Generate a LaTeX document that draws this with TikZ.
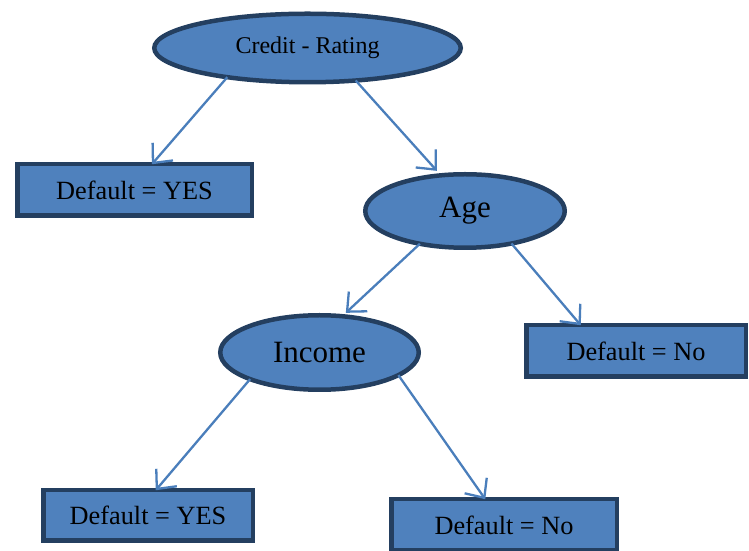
\documentclass[tikz,border=0pt]{standalone}
\usepackage{fontspec}
\setmainfont{Liberation Serif}
\usepackage{xcolor}
\usetikzlibrary{positioning,arrows.meta,shapes.geometric}

\definecolor{boxfill}{HTML}{4F81BD}
\definecolor{boxline}{HTML}{243F60}
\definecolor{arrline}{HTML}{4A7EBB}

\begin{document}
\begin{tikzpicture}[x=1pt,y=1pt,every node/.style={draw=boxline, line width=4.5pt, fill=boxfill, outer sep=0pt, inner sep=0pt}]
\tikzset{test/.style={ellipse},
  leaf/.style={rectangle,minimum height=51.5pt,font=\fontsize{26.3}{30}\selectfont},
  darrow/.style={-{Straight Barb[length=15pt,width=27pt]},line width=2.3pt,draw=arrline}}

  \useasboundingbox (0,0) rectangle (749,551);

  \node(CR) [test,minimum width=306.5pt,minimum height=68.5pt,font=\fontsize{24}{28}\selectfont] at (307.5,503) {Credit - Rating};
  \node(DY1) [leaf,minimum width=234.5pt] at (134.5,361) {Default = YES};
  \node(AGE) [test,minimum width=199.5pt,minimum height=73.5pt,font=\fontsize{31}{36}\selectfont] at (465,340) {Age};
  \node(DN1) [leaf,minimum width=219.5pt] at (636,200) {Default = No};
  \node(INC) [test,minimum width=198.5pt,minimum height=74.5pt,font=\fontsize{31}{36}\selectfont] at (319.5,198.5) {Income};
  \node(DY2) [leaf,minimum width=209.5pt,minimum height=50.5pt] at (148,35.5) {Default = YES};
  \node(DN2) [leaf,minimum width=225.5pt] at (504,26) {Default = No};

  \draw[darrow] (CR.200) -- (DY1.56);
  \draw[darrow,shorten >=6pt] (CR.326) -- (AGE.124);
  \draw[darrow,shorten >=5pt] (AGE.216) -- (INC.58);
  \draw[darrow] (AGE.325) -- (DN1.155);
  \draw[darrow] (INC.201) -- (DY2.73);
  \draw[darrow] (INC.344) -- (DN2.126);
\end{tikzpicture}
\end{document}
